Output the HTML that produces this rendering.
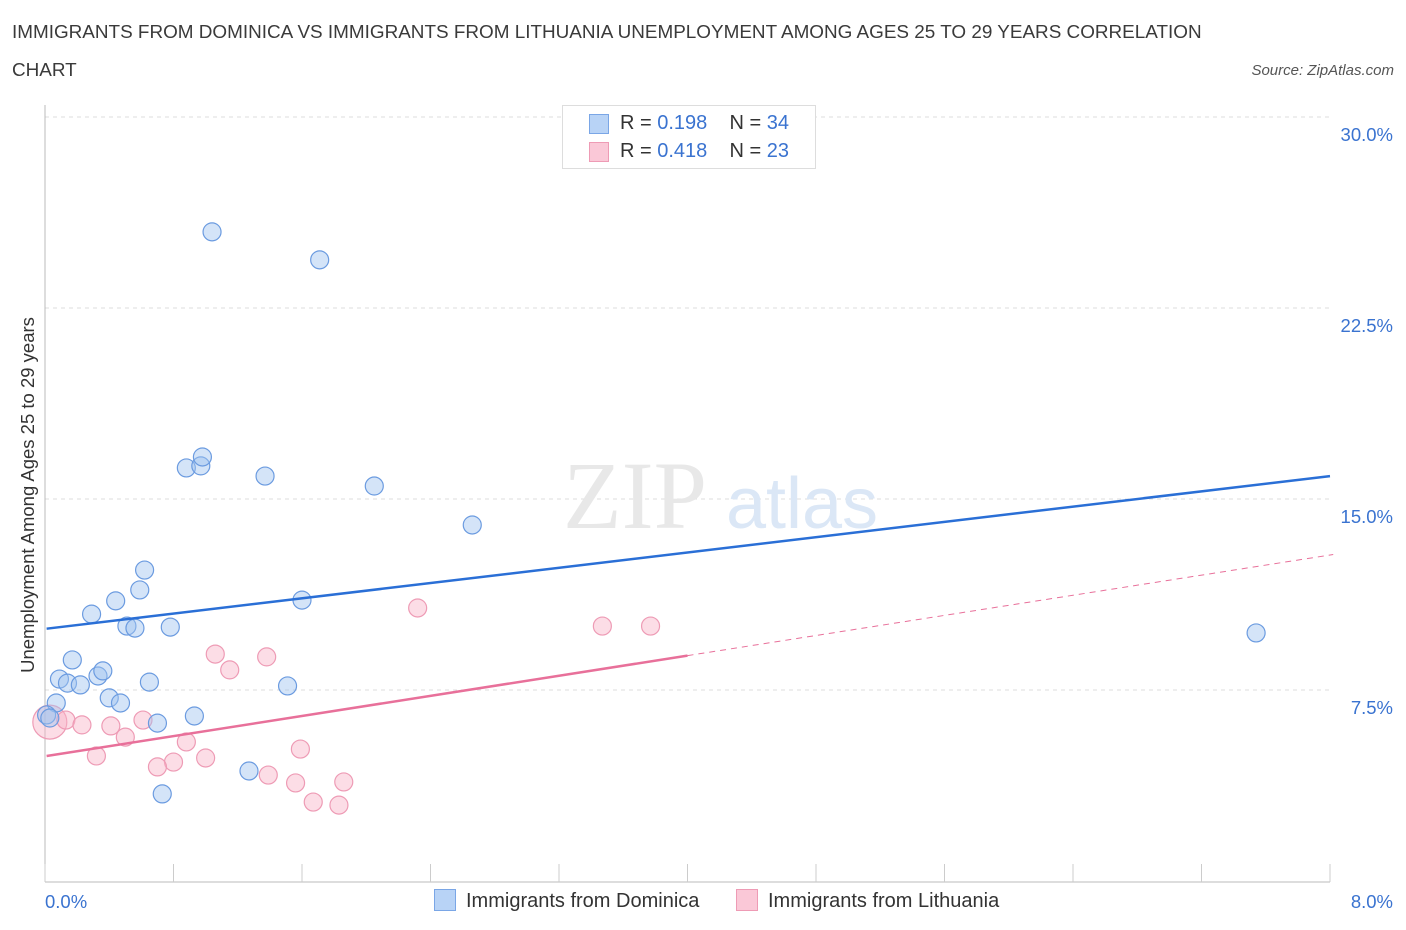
<!DOCTYPE html>
<html><head><meta charset="utf-8">
<style>
body{margin:0;background:#fff;font-family:"Liberation Sans",sans-serif;}
#wrap{position:relative;width:1406px;height:930px;overflow:hidden;}
.t{position:absolute;white-space:nowrap;}
</style></head><body>
<div id="wrap">
<div class="t" style="left:12px;top:14px;font-size:18.9px;color:#3a3a3a;line-height:38px;">IMMIGRANTS FROM DOMINICA VS IMMIGRANTS FROM LITHUANIA UNEMPLOYMENT AMONG AGES 25 TO 29 YEARS CORRELATION<br>CHART</div>
<div class="t" style="right:12px;top:62px;font-size:15px;color:#555;font-style:italic;">Source: ZipAtlas.com</div>
<svg id="svg" width="1406" height="930" style="position:absolute;left:0;top:0"></svg>
</div>
<script>
const blueX=[1.04,1.71,0.88,0.97,0.98,1.37,2.05,2.66,0.62,0.59,0.44,0.29,1.60,0.51,0.56,0.78,0.17,0.07,0.09,0.14,0.22,0.33,0.36,0.40,0.47,0.65,0.70,0.93,1.51,1.27,0.73,7.54,0.01,0.03];
const blueY=[25.49,24.39,16.22,16.30,16.65,15.90,15.51,13.98,12.21,11.43,11.00,10.48,11.03,10.01,9.93,9.97,8.68,6.99,7.93,7.77,7.70,8.05,8.25,7.19,6.99,7.81,6.20,6.48,7.66,4.32,3.42,9.74,6.52,6.40];
const pinkX=[2.32,3.47,3.77,1.06,1.38,1.15,0.03,0.13,0.23,0.41,0.61,0.50,0.88,0.32,1.00,0.80,0.70,1.59,1.39,1.56,1.86,1.67,1.83];
const pinkY=[10.72,10.01,10.01,8.91,8.80,8.29,6.24,6.32,6.13,6.09,6.32,5.65,5.46,4.91,4.83,4.67,4.48,5.18,4.16,3.85,3.89,3.10,2.98];
const blueTrend=[9.9,15.9];
const pinkTrend=[4.9,12.8];
const yTicks=[7.5,15,22.5,30];
const yTickLabels=["7.5%","15.0%","22.5%","30.0%"];
const xTicks=[0,0.8,1.6,2.4,3.2,4.0,4.8,5.6,6.4,7.2,8.0];

const X=v=>45+v*1285/8;
const Y=v=>881-v*764/30;
const svg=document.getElementById('svg');
const NS='http://www.w3.org/2000/svg';
function mk(tag,at){const e=document.createElementNS(NS,tag);for(const k in at)e.setAttribute(k,at[k]);svg.appendChild(e);return e;}

yTicks.forEach((v,i)=>{
 const g=mk('line',{x1:45,x2:1330,y1:Y(v),y2:Y(v),stroke:'#ddd','stroke-dasharray':'4,4'});
 
 
 const t=mk('text',{x:1393,y:Y(v)+24,'text-anchor':'end','font-size':18.5,fill:'#3a73d0','font-family':'Liberation Sans, sans-serif'});
 t.textContent=yTickLabels[i];
 
 
});
const ya=mk('line',{x1:45,x2:45,y1:105,y2:882,stroke:'#bbb'});


const xa=mk('line',{x1:45,x2:1330,y1:882,y2:882,stroke:'#bbb'});


xTicks.forEach(v=>{
 const l=mk('line',{x1:X(v),x2:X(v),y1:864,y2:882,stroke:'#ccc'});
 
 
});
[["0.0%",45,'start'],["8.0%",1393,'end']].forEach(a=>{
 const t=mk('text',{x:a[1],y:908,'text-anchor':a[2],'font-size':18.5,fill:'#3a73d0','font-family':'Liberation Sans, sans-serif'});
 t.textContent=a[0];
 
 
});
const yt=mk('text',{x:0,y:0,transform:'translate(34,495) rotate(-90)','text-anchor':'middle','font-size':18.5,fill:'#333','font-family':'Liberation Sans, sans-serif'});
yt.textContent='Unemployment Among Ages 25 to 29 years';



const w1=mk('text',{x:635,y:528,'text-anchor':'middle','font-size':96,fill:'#e8e8e8','font-family':'Liberation Serif, serif'});
w1.textContent='ZIP';


const w2=mk('text',{x:802,y:528,'text-anchor':'middle','font-size':72,fill:'#dbe7f6','font-family':'Liberation Sans, sans-serif'});
w2.textContent='atlas';



pinkX.forEach((x,i)=>{
 const c=mk('circle',{cx:X(x),cy:Y(pinkY[i]),r:i==6?17:9,fill:'rgba(248,180,200,0.45)',stroke:'#ee9bb5','stroke-width':1.2});
 
 
});
blueX.forEach((x,i)=>{
 const c=mk('circle',{cx:X(x),cy:Y(blueY[i]),r:9,fill:'rgba(160,195,240,0.45)',stroke:'#6b9be0','stroke-width':1.2});
 
 
});
const bl=mk('line',{x1:X(0.01),y1:Y(blueTrend[0]+(blueTrend[1]-blueTrend[0])*0.01/8),x2:X(8),y2:Y(blueTrend[1]),stroke:'#2a6fd6','stroke-width':2.5});


const pAt=v=>pinkTrend[0]+(pinkTrend[1]-pinkTrend[0])*v/8;
const pl=mk('line',{x1:X(0.01),y1:Y(pAt(0.01)),x2:X(4),y2:Y(pAt(4)),stroke:'#e8709a','stroke-width':2.5});


const pd=mk('line',{x1:X(4),y1:Y(pAt(4)),x2:X(8.02),y2:Y(pAt(8.02)),stroke:'#e8709a','stroke-width':1,'stroke-dasharray':'6,5'});


</script>
<div class="t" style="left:562px;top:105px;width:252px;height:62px;border:1px solid #ddd;background:#fff;font-size:20px;color:#333;">
 <div style="position:absolute;left:26px;top:8px;width:20px;height:20px;background:#b8d3f6;border:1px solid #7aa6e6;box-sizing:border-box"></div>
 <div style="position:absolute;left:57px;top:6px">R = <span style="color:#3a73d0">0.198</span>&nbsp;&nbsp;&nbsp; N = <span style="color:#3a73d0">34</span></div>
 <div style="position:absolute;left:26px;top:36px;width:20px;height:20px;background:#fac8d7;border:1px solid #ee9bb5;box-sizing:border-box"></div>
 <div style="position:absolute;left:57px;top:34px">R = <span style="color:#3a73d0">0.418</span>&nbsp;&nbsp;&nbsp; N = <span style="color:#3a73d0">23</span></div>
</div>
<div class="t" style="left:434px;top:889px;font-size:20px;color:#333;">
 <span style="display:inline-block;width:22px;height:22px;background:#b8d3f6;border:1px solid #7aa6e6;box-sizing:border-box;vertical-align:-4px;margin-right:10px"></span>Immigrants from Dominica</div>
<div class="t" style="left:736px;top:889px;font-size:20px;color:#333;">
 <span style="display:inline-block;width:22px;height:22px;background:#fac8d7;border:1px solid #ee9bb5;box-sizing:border-box;vertical-align:-4px;margin-right:10px"></span>Immigrants from Lithuania</div>
</body></html>
